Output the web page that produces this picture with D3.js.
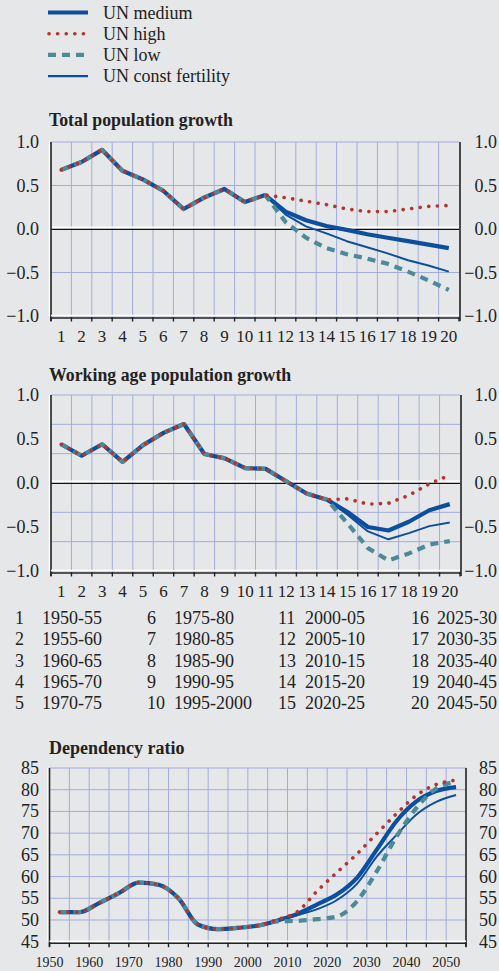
<!DOCTYPE html>
<html>
<head>
<meta charset="utf-8">
<script src="https://cdn.jsdelivr.net/npm/d3@7"></script>
<style>
  html, body { margin: 0; padding: 0; background: #e6e7e9; }
  svg { display: block; }
  text { font-family: "Liberation Serif", "Times New Roman", serif; fill: #222; }
</style>
</head>
<body>
<svg id="chart" width="499" height="971"></svg>
<script>
// ---- Data ----------------------------------------------------------------
const periodNums = [1,2,3,4,5,6,7,8,9,10,11,12,13,14,15,16,17,18,19,20];
const periodLabels = ["1950-55","1955-60","1960-65","1965-70","1970-75",
  "1975-80","1980-85","1985-90","1990-95","1995-2000",
  "2000-05","2005-10","2010-15","2015-20","2020-25",
  "2025-30","2030-35","2035-40","2040-45","2045-50"];

// Total population growth, % per year
const totalMedium = [0.68,0.77,0.91,0.67,0.57,0.44,0.23,0.36,0.46,0.31,0.39,0.20,0.10,0.035,-0.01,-0.06,-0.10,-0.14,-0.18,-0.22];
const totalHigh   = [0.68,0.77,0.91,0.67,0.57,0.44,0.23,0.36,0.46,0.31,0.39,0.36,0.32,0.28,0.23,0.20,0.20,0.23,0.26,0.27];
const totalLow    = [0.68,0.77,0.91,0.67,0.57,0.44,0.23,0.36,0.46,0.31,0.39,0.08,-0.10,-0.22,-0.29,-0.34,-0.40,-0.49,-0.59,-0.70];
const totalConst  = [0.68,0.77,0.91,0.67,0.57,0.44,0.23,0.36,0.46,0.31,0.39,0.165,0.03,-0.05,-0.14,-0.21,-0.28,-0.36,-0.42,-0.49];

// Working age population growth, % per year
const workMedium = [0.44,0.31,0.44,0.24,0.43,0.57,0.67,0.33,0.28,0.17,0.16,0.02,-0.12,-0.19,-0.33,-0.50,-0.54,-0.44,-0.31,-0.24];
const workHigh   = [0.44,0.31,0.44,0.24,0.43,0.57,0.67,0.33,0.28,0.17,0.16,0.02,-0.12,-0.19,-0.18,-0.24,-0.23,-0.14,-0.01,0.09];
const workLow    = [0.44,0.31,0.44,0.24,0.43,0.57,0.67,0.33,0.28,0.17,0.16,0.02,-0.12,-0.19,-0.46,-0.74,-0.88,-0.80,-0.70,-0.66];
const workConst  = [0.44,0.31,0.44,0.24,0.43,0.57,0.67,0.33,0.28,0.17,0.16,0.02,-0.12,-0.19,-0.36,-0.55,-0.64,-0.57,-0.49,-0.45];

// Dependency ratio, at mid-points of five-year periods
const depYears  = [1952.5,1957.5,1962.5,1967.5,1972.5,1977.5,1982.5,1987.5,1992.5,1997.5,2002.5,
                   2007.5,2012.5,2017.5,2022.5,2027.5,2032.5,2037.5,2042.5,2047.5,2052.5];
const depMedium = [51.8,51.8,53.9,56.2,58.6,58.1,55.0,48.9,47.9,48.2,48.7,49.9,51.4,53.6,55.9,59.7,66.2,72.8,77.3,79.7,80.6];
const depHigh   = [51.8,51.8,53.9,56.2,58.6,58.1,55.0,48.9,47.9,48.2,48.7,50.1,51.9,56.7,61.0,65.2,69.9,74.5,78.7,81.2,82.2];
const depLow    = [51.8,51.8,53.9,56.2,58.6,58.1,55.0,48.9,47.9,48.2,48.7,49.7,49.8,50.2,50.8,54.3,61.2,69.2,75.8,80.3,81.8];
const depConst  = [51.8,51.8,53.9,56.2,58.6,58.1,55.0,48.9,47.9,48.2,48.7,49.8,51.1,52.5,54.6,58.3,64.6,69.6,74.3,77.2,78.8];

const growthTicks = [1.0, 0.5, 0.0, -0.5, -1.0];
const depTicks = [85, 80, 75, 70, 65, 60, 55, 50, 45];
const yearLabels = [1950, 1960, 1970, 1980, 1990, 2000, 2010, 2020, 2030, 2040, 2050];

// ---- Styles --------------------------------------------------------------
const BLUE = "#0b4f9e", RED = "#b3352f", TEAL = "#4d8a97", GRID = "#a3addb";
const seriesStyle = {
  medium: { stroke: BLUE, width: 4.2, dash: null, cap: "butt" },
  constf: { stroke: BLUE, width: 2, dash: null, cap: "butt" },
  low:    { stroke: TEAL, width: 4.2, dash: "8 6", cap: "butt" },
  high:   { stroke: RED,  width: 3.6, dash: "0.1 8.5", cap: "round" }
};

const svg = d3.select("#chart");
svg.append("rect").attr("width", 499).attr("height", 971).attr("fill", "#e6e7e9");

// ---- Legend --------------------------------------------------------------
const legendItems = [
  ["UN medium", "medium"], ["UN high", "high"], ["UN low", "low"], ["UN const fertility", "constf"]
];
const legend = svg.append("g");
legendItems.forEach(([label, key], i) => {
  const y = 12.5 + i * 21.2;
  const st = seriesStyle[key];
  legend.append("line")
    .attr("x1", key === "high" ? 49 : 48).attr("x2", 88).attr("y1", y).attr("y2", y)
    .attr("stroke", st.stroke).attr("stroke-width", key === "constf" ? 2.2 : st.width)
    .attr("stroke-dasharray", st.dash).attr("stroke-linecap", st.cap);
  legend.append("text").attr("x", 103).attr("y", y + 6)
    .attr("font-size", 18).text(label);
});

// ---- Growth panels (categorical x) --------------------------------------
function growthPanel(opts) {
  const { top, bottom, left, right, title, titleY, gridVals, series } = opts;
  const g = svg.append("g");
  const x = d3.scaleBand().domain(periodNums).range([left, right]);
  const y = d3.scaleLinear().domain([-1, 1]).range([bottom, top]);

  g.append("text").attr("x", 49).attr("y", titleY)
    .attr("font-size", 17.8).attr("font-weight", "bold").text(title);

  // horizontal grid
  g.selectAll(".hg").data(gridVals).join("line")
    .attr("x1", left).attr("x2", right)
    .attr("y1", d => y(d)).attr("y2", d => y(d))
    .attr("stroke", GRID).attr("stroke-width", 1);

  // vertical grid at band edges
  const edges = periodNums.slice(1).map(d => x(d));
  g.selectAll(".vg").data(edges).join("line")
    .attr("x1", d => d).attr("x2", d => d)
    .attr("y1", top).attr("y2", bottom)
    .attr("stroke", GRID).attr("stroke-width", 1);

  // zero line
  g.append("line").attr("x1", left).attr("x2", right)
    .attr("y1", y(0) - 1.6).attr("y2", y(0) - 1.6)
    .attr("stroke", "#fff").attr("stroke-width", 2);
  g.append("line").attr("x1", left).attr("x2", right)
    .attr("y1", y(0) + 0.4).attr("y2", y(0) + 0.4)
    .attr("stroke", "#111").attr("stroke-width", 1.4);

  // left and right axis lines
  g.append("line").attr("x1", left - 1.5).attr("x2", left - 1.5).attr("y1", top).attr("y2", bottom)
    .attr("stroke", "#fff").attr("stroke-width", 1.5);
  g.append("line").attr("x1", left).attr("x2", left).attr("y1", top).attr("y2", bottom + 5)
    .attr("stroke", "#222").attr("stroke-width", 1.6);
  g.append("line").attr("x1", right + 1).attr("x2", right + 1).attr("y1", top).attr("y2", bottom + 5)
    .attr("stroke", "#222").attr("stroke-width", 1.6);

  // bottom axis: white line, black base and ticks at band edges
  g.append("line").attr("x1", left).attr("x2", right)
    .attr("y1", bottom - 0.5).attr("y2", bottom - 0.5).attr("stroke", "#fff").attr("stroke-width", 1.5);
  const xAxis = d3.axisBottom(x).tickSize(0).tickPadding(12);
  const ax = g.append("g").attr("transform", `translate(0,${bottom + 1.5})`).call(xAxis);
  ax.select(".domain").attr("stroke", "#222").attr("stroke-width", 1.4);
  ax.selectAll(".tick text").attr("font-size", 17).attr("fill", "#222")
    .attr("font-family", '"Liberation Serif", "Times New Roman", serif')
    .attr("dy", "0.71em");
  const allEdges = [left].concat(edges, [right]);
  g.selectAll(".xt").data(allEdges).join("line")
    .attr("x1", d => d).attr("x2", d => d)
    .attr("y1", bottom + 1).attr("y2", bottom + 5.5)
    .attr("stroke", "#222").attr("stroke-width", 1.4);

  // y tick labels on both sides
  const fmt = d3.format(".1f");
  g.selectAll(".yl").data(growthTicks).join("text")
    .attr("x", 39).attr("y", d => y(d) + 6).attr("text-anchor", "end")
    .attr("font-size", 18).text(d => fmt(d));
  g.selectAll(".yr").data(growthTicks).join("text")
    .attr("x", 497).attr("y", d => y(d) + 6).attr("text-anchor", "end")
    .attr("font-size", 18).text(d => fmt(d));

  // series
  const line = d3.line().x((d, i) => x(periodNums[i]) + x.bandwidth() / 2).y(d => y(d));
  drawSeries(g, line, series);
}

function drawSeries(g, line, series) {
  [["medium", series.medium], ["constf", series.constf], ["low", series.low], ["high", series.high]]
    .forEach(([key, vals]) => {
      const st = seriesStyle[key];
      g.append("path").datum(vals)
        .attr("d", line)
        .attr("fill", "none")
        .attr("stroke", st.stroke)
        .attr("stroke-width", st.width)
        .attr("stroke-dasharray", st.dash)
        .attr("stroke-linecap", st.cap)
        .attr("stroke-linejoin", "round");
    });
}

growthPanel({
  top: 142, bottom: 316, left: 51, right: 459,
  title: "Total population growth", titleY: 126,
  gridVals: [-1, -0.5, 0.5, 1],
  series: { medium: totalMedium, high: totalHigh, low: totalLow, constf: totalConst }
});

growthPanel({
  top: 395, bottom: 571, left: 51, right: 460,
  title: "Working age population growth", titleY: 381,
  gridVals: d3.range(-3, 4).map(k => k / 3).filter(v => v !== 0),
  series: { medium: workMedium, high: workHigh, low: workLow, constf: workConst }
});

// ---- Period key table ----------------------------------------------------
const table = svg.append("g");
const colNumX = [15, 147, 278, 411];
const colLabX = [42, 174, 305, 437];
periodLabels.forEach((lab, i) => {
  const col = Math.floor(i / 5), row = i % 5;
  const yy = 624 + row * 21.3;
  table.append("text").attr("x", colNumX[col]).attr("y", yy).attr("font-size", 18).text(periodNums[i]);
  table.append("text").attr("x", colLabX[col]).attr("y", yy).attr("font-size", 18).text(lab);
});

// ---- Dependency ratio panel ---------------------------------------------
(function () {
  const top = 768, bottom = 941.7, left = 49.5, right = 466;
  const g = svg.append("g");
  const x = d3.scaleLinear().domain([1950, 2055]).range([left, right]);
  const y = d3.scaleLinear().domain([45, 85]).range([bottom, top]);

  g.append("text").attr("x", 49).attr("y", 754)
    .attr("font-size", 18).attr("font-weight", "bold").text("Dependency ratio");

  g.selectAll(".hg").data(depTicks.filter(v => v > 45)).join("line")
    .attr("x1", left).attr("x2", right).attr("y1", d => y(d)).attr("y2", d => y(d))
    .attr("stroke", GRID).attr("stroke-width", 1);
  const fiveYears = d3.range(1955, 2055, 5);
  g.selectAll(".vg").data(fiveYears).join("line")
    .attr("x1", d => x(d)).attr("x2", d => x(d)).attr("y1", top).attr("y2", bottom)
    .attr("stroke", GRID).attr("stroke-width", 1);

  g.append("line").attr("x1", left - 1.5).attr("x2", left - 1.5).attr("y1", top).attr("y2", bottom)
    .attr("stroke", "#fff").attr("stroke-width", 1.5);
  g.append("line").attr("x1", left).attr("x2", left).attr("y1", top).attr("y2", bottom + 5)
    .attr("stroke", "#222").attr("stroke-width", 1.6);
  g.append("line").attr("x1", right).attr("x2", right).attr("y1", top).attr("y2", bottom + 5)
    .attr("stroke", "#222").attr("stroke-width", 1.6);

  g.append("line").attr("x1", left).attr("x2", right)
    .attr("y1", bottom - 0.5).attr("y2", bottom - 0.5).attr("stroke", "#fff").attr("stroke-width", 1.5);
  g.append("line").attr("x1", left).attr("x2", right)
    .attr("y1", bottom + 1.5).attr("y2", bottom + 1.5).attr("stroke", "#222").attr("stroke-width", 1.4);
  g.selectAll(".xt").data(d3.range(1950, 2060, 5)).join("line")
    .attr("x1", d => x(d)).attr("x2", d => x(d)).attr("y1", bottom + 1).attr("y2", bottom + 5.5)
    .attr("stroke", "#222").attr("stroke-width", 1.4);

  g.selectAll(".xl").data(yearLabels).join("text")
    .attr("x", d => x(d)).attr("y", 967).attr("text-anchor", "middle")
    .attr("font-size", 14).text(d => d);

  g.selectAll(".yl").data(depTicks).join("text")
    .attr("x", 39).attr("y", d => y(d) + 6).attr("text-anchor", "end")
    .attr("font-size", 18).text(d => d);
  g.selectAll(".yr").data(depTicks).join("text")
    .attr("x", 497).attr("y", d => y(d) + 6).attr("text-anchor", "end")
    .attr("font-size", 18).text(d => d);

  const line = d3.line().x((d, i) => x(depYears[i])).y(d => y(d)).curve(d3.curveMonotoneX);
  drawSeries(g, line, { medium: depMedium, high: depHigh, low: depLow, constf: depConst });
})();
</script>
</body>
</html>
